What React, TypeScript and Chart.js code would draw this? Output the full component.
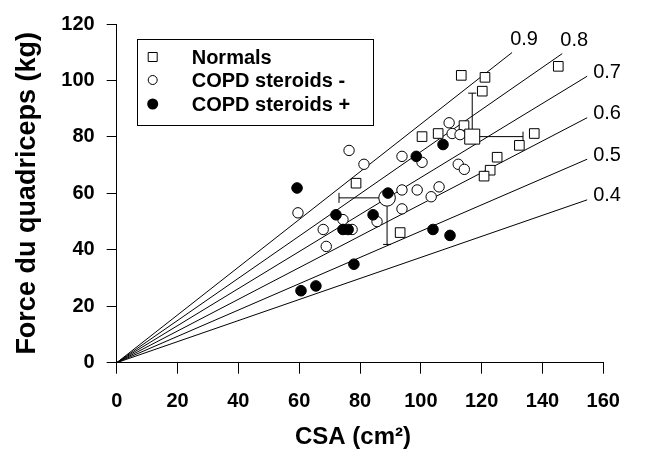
import React, { useEffect, useRef } from 'react';
import { Chart, registerables } from 'chart.js';

Chart.register(...registerables);

const FONT = "'Liberation Sans', Arial, Helvetica, sans-serif";

// Normals (open squares)
const normalsX = [113.3, 121.1, 120.2, 145.2, 114.2, 137.3, 132.4, 125.1, 122.8, 120.8, 100.4, 105.7, 78.7, 93.2];
const normalsY = [101.8, 101.1, 96.2, 105.0, 84.0, 81.2, 77.0, 72.8, 68.2, 66.1, 80.1, 81.2, 63.6, 46.1];

// COPD steroids - (open circles)
const copdMinusX = [76.4, 81.3, 93.8, 100.4, 109.3, 110.3, 112.9, 112.3, 114.3, 93.8, 98.8, 106.0, 103.4, 93.8, 85.6, 59.6, 67.9, 74.4, 77.4, 68.9];
const copdMinusY = [75.2, 70.3, 73.1, 71.0, 85.0, 81.2, 80.8, 70.3, 68.5, 61.2, 61.2, 62.3, 58.8, 54.5, 50.0, 53.1, 47.2, 50.7, 47.2, 41.2];

// COPD steroids + (filled circles)
const copdPlusX = [59.3, 72.1, 74.4, 76.1, 84.3, 89.2, 98.5, 107.3, 78.0, 104.0, 109.6, 65.5, 60.6];
const copdPlusY = [61.9, 52.4, 47.2, 47.2, 52.4, 60.1, 73.1, 77.3, 34.9, 47.2, 45.1, 27.2, 25.5];

// Group means with one-sided SD bars
const normalsMean = [116.9, 80.1];
const normalsSd = [16.7, 15.4];
const copdMean = [88.9, 58.4];
const copdSd = [15.8, 16.5];

// Force/CSA ratio lines (from origin to end point)
const ratioLabels = ['0.9', '0.8', '0.7', '0.6', '0.5', '0.4'];
const ratioEndX = [130.0, 146.5, 154.7, 154.7, 154.7, 154.7];
const ratioEndY = [109.9, 109.5, 101.5, 86.8, 72.1, 57.7];

const xTicks = [0, 20, 40, 60, 80, 100, 120, 140, 160];
const yTicks = [0, 20, 40, 60, 80, 100, 120];

const legendLabels = ['Normals', 'COPD steroids -', 'COPD steroids +'];
const xTitle = 'CSA (cm²)';
const yTitle = 'Force du quadriceps (kg)';

const zip = (xs: number[], ys: number[]) => xs.map((x, i) => ({ x, y: ys[i] }));

const overlayPlugin = {
  id: 'overlay',
  beforeDatasetsDraw(chart: any) {
    const { ctx, scales } = chart;
    const sx = scales.x;
    const sy = scales.y;
    ctx.save();
    ctx.strokeStyle = '#000';
    ctx.lineWidth = 1;
    const bars = [
      { m: normalsMean, e: [normalsMean[0] + normalsSd[0], normalsMean[1] + normalsSd[1]] },
      { m: copdMean, e: [copdMean[0] - copdSd[0], copdMean[1] - copdSd[1]] },
    ];
    for (const b of bars) {
      const px = sx.getPixelForValue(b.m[0]);
      const py = sy.getPixelForValue(b.m[1]);
      const ex = sx.getPixelForValue(b.e[0]);
      const ey = sy.getPixelForValue(b.e[1]);
      ctx.beginPath();
      ctx.moveTo(px, py);
      ctx.lineTo(ex, py);
      ctx.moveTo(ex, py - 5);
      ctx.lineTo(ex, py + 5);
      ctx.moveTo(px, py);
      ctx.lineTo(px, ey);
      ctx.moveTo(px - 4, ey);
      ctx.lineTo(px + 4, ey);
      ctx.stroke();
    }
    ctx.restore();
  },
  afterDraw(chart: any) {
    const { ctx, scales, chartArea } = chart;
    const sx = scales.x;
    const sy = scales.y;
    ctx.save();
    // ratio labels
    ctx.fillStyle = '#000';
    ctx.font = `20px ${FONT}`;
    ctx.textBaseline = 'middle';
    ratioLabels.forEach((lab, i) => {
      const ex = sx.getPixelForValue(ratioEndX[i]);
      const ey = sy.getPixelForValue(ratioEndY[i]);
      if (i < 2) {
        ctx.textAlign = 'center';
        ctx.fillText(lab, ex + 12, ey - 13);
      } else {
        ctx.textAlign = 'left';
        ctx.fillText(lab, ex + 6, ey - 4);
      }
    });
    // x axis title
    ctx.font = `bold 24px ${FONT}`;
    ctx.textAlign = 'center';
    ctx.textBaseline = 'middle';
    ctx.fillText(xTitle, (chartArea.left + chartArea.right) / 2 - 7, 437);
    // legend
    const bx = chartArea.left + 20;
    const by = chartArea.top + 15;
    const bw = 236;
    const bh = 86;
    ctx.fillStyle = '#fff';
    ctx.fillRect(bx, by, bw, bh);
    ctx.strokeStyle = '#000';
    ctx.lineWidth = 1;
    ctx.strokeRect(Math.round(bx) + 0.5, Math.round(by) + 0.5, bw, bh);
    const rows = [18, 41, 65];
    const mx = bx + 16;
    rows.forEach((r, i) => {
      const cy = by + r;
      ctx.beginPath();
      if (i === 0) {
        ctx.rect(mx - 4.5, cy - 4.5, 9, 9);
        ctx.fillStyle = '#fff';
        ctx.fill();
        ctx.stroke();
      } else if (i === 1) {
        ctx.arc(mx, cy, 4.5, 0, Math.PI * 2);
        ctx.fillStyle = '#fff';
        ctx.fill();
        ctx.stroke();
      } else {
        ctx.arc(mx, cy, 5.5, 0, Math.PI * 2);
        ctx.fillStyle = '#000';
        ctx.fill();
      }
      ctx.fillStyle = '#000';
      ctx.font = `bold 20px ${FONT}`;
      ctx.textAlign = 'left';
      ctx.textBaseline = 'middle';
      ctx.fillText(legendLabels[i], bx + 55, cy + 1);
    });
    ctx.restore();
  },
};

export default function App() {
  const ref = useRef<HTMLCanvasElement | null>(null);
  useEffect(() => {
    document.body.style.margin = '0';
    if (!ref.current) return;
    const ratioDatasets = ratioLabels.map((lab, i) => ({
      label: lab,
      data: [{ x: 0, y: 0 }, { x: ratioEndX[i], y: ratioEndY[i] }],
      showLine: true,
      borderColor: '#000',
      borderWidth: 1,
      pointRadius: 0,
      fill: false,
    }));
    const chart = new Chart(ref.current, {
      type: 'scatter',
      data: {
        datasets: [
          {
            label: 'Normals mean',
            data: [{ x: normalsMean[0], y: normalsMean[1] }],
            pointStyle: 'rect',
            pointRadius: 10.6,
            backgroundColor: '#fff',
            borderColor: '#000',
            borderWidth: 1,
          },
          {
            label: legendLabels[2],
            data: zip(copdPlusX, copdPlusY),
            pointStyle: 'circle',
            pointRadius: 5.3,
            backgroundColor: '#000',
            borderColor: '#000',
            borderWidth: 1,
          },
          {
            label: 'COPD mean',
            data: [{ x: copdMean[0], y: copdMean[1] }],
            pointStyle: 'circle',
            pointRadius: 8.3,
            backgroundColor: '#fff',
            borderColor: '#000',
            borderWidth: 1,
          },
          {
            label: legendLabels[1],
            data: zip(copdMinusX, copdMinusY),
            pointStyle: 'circle',
            pointRadius: 5.2,
            backgroundColor: '#fff',
            borderColor: '#000',
            borderWidth: 1,
          },
          {
            label: legendLabels[0],
            data: zip(normalsX, normalsY),
            pointStyle: 'rect',
            pointRadius: 6.8,
            backgroundColor: '#fff',
            borderColor: '#000',
            borderWidth: 1,
          },
          ...ratioDatasets,
        ] as any,
      },
      options: {
        animation: false,
        responsive: false,
        devicePixelRatio: 1,
        layout: { padding: { left: 0, top: 20, right: 52.7, bottom: 0 } },
        plugins: { legend: { display: false }, tooltip: { enabled: false } },
        scales: {
          x: {
            type: 'linear',
            min: 0,
            max: 160,
            afterBuildTicks: (s: any) => { s.ticks = xTicks.map((v) => ({ value: v })); },
            afterFit: (s: any) => { s.height = 87.3; },
            grid: { drawOnChartArea: false, drawTicks: true, tickLength: 11, color: '#000', lineWidth: 1 },
            border: { display: true, color: '#000', width: 1 },
            ticks: { color: '#000', padding: 16, maxRotation: 0, font: { family: FONT, size: 20, weight: 'bold' } },
            title: { display: false, text: xTitle },
          },
          y: {
            type: 'linear',
            min: 0,
            max: 120,
            afterBuildTicks: (s: any) => { s.ticks = yTicks.map((v) => ({ value: v })); },
            afterFit: (s: any) => { s.width = 116.7; },
            grid: { drawOnChartArea: false, drawTicks: true, tickLength: 10, color: '#000', lineWidth: 1 },
            border: { display: true, color: '#000', width: 1 },
            ticks: { color: '#000', padding: 12, font: { family: FONT, size: 20, weight: 'bold' } },
            title: { display: true, text: yTitle, color: '#000', padding: { top: 14, bottom: 0 }, font: { family: FONT, size: 27, weight: 'bold', lineHeight: 1 } },
          },
        },
      } as any,
      plugins: [overlayPlugin],
    });
    return () => chart.destroy();
  }, []);
  return (
    <div style={{ width: 656, height: 450 }}>
      <canvas ref={ref} width={656} height={450} style={{ display: 'block' }} />
    </div>
  );
}
